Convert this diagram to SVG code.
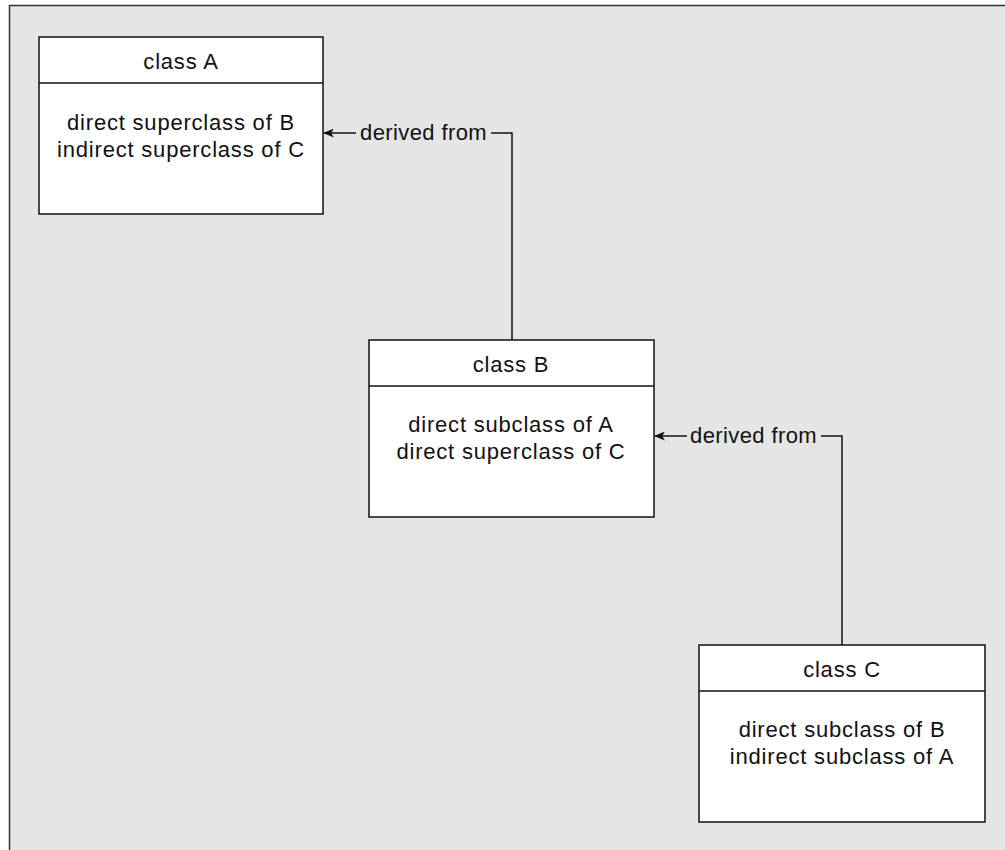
<svg xmlns="http://www.w3.org/2000/svg" width="1005" height="850" viewBox="0 0 1005 850">
<style>
.frame{fill:#e5e5e5;stroke:#333;stroke-width:1.5}
.box{fill:#fff;stroke:#111;stroke-width:1.5}
.div{stroke:#111;stroke-width:1.5}
text{font-family:"Liberation Sans",Arial,sans-serif;font-size:22px;letter-spacing:0.8px;fill:#111;text-anchor:middle}
.lbl{text-anchor:start;letter-spacing:0.4px}
.conn{fill:none;stroke:#111;stroke-width:1.5}
</style>
<defs>
<marker id="arr" viewBox="0 0 12 10" refX="11" refY="5" markerWidth="12" markerHeight="9" markerUnits="userSpaceOnUse" orient="auto">
<path d="M0,0 L12,5 L0,10 L3,5 Z" fill="#111"/>
</marker>
</defs>
<rect class="frame" x="9.5" y="5.5" width="1010" height="860"/>
<g id="connectors">
<path class="conn" d="M512,340 V133 H491"/>
<path class="conn" d="M356,133 H324" marker-end="url(#arr)"/>
<text class="lbl" x="360" y="140">derived from</text>
<path class="conn" d="M842,645 V436 H821"/>
<path class="conn" d="M687,436 H655" marker-end="url(#arr)"/>
<text class="lbl" x="690" y="443">derived from</text>
</g>
<g id="classA">
<rect class="box" x="39" y="37" width="284" height="177"/>
<line class="div" x1="39" y1="83" x2="323" y2="83"/>
<text x="181" y="69">class A</text>
<text x="181" y="130">direct superclass of B</text>
<text x="181" y="157">indirect superclass of C</text>
</g>
<g id="classB">
<rect class="box" x="369" y="340" width="285" height="177"/>
<line class="div" x1="369" y1="386" x2="654" y2="386"/>
<text x="511" y="372">class B</text>
<text x="511" y="432">direct subclass of A</text>
<text x="511" y="459">direct superclass of C</text>
</g>
<g id="classC">
<rect class="box" x="699" y="645" width="286" height="177"/>
<line class="div" x1="699" y1="691" x2="985" y2="691"/>
<text x="842" y="677">class C</text>
<text x="842" y="737">direct subclass of B</text>
<text x="842" y="764">indirect subclass of A</text>
</g>
</svg>
